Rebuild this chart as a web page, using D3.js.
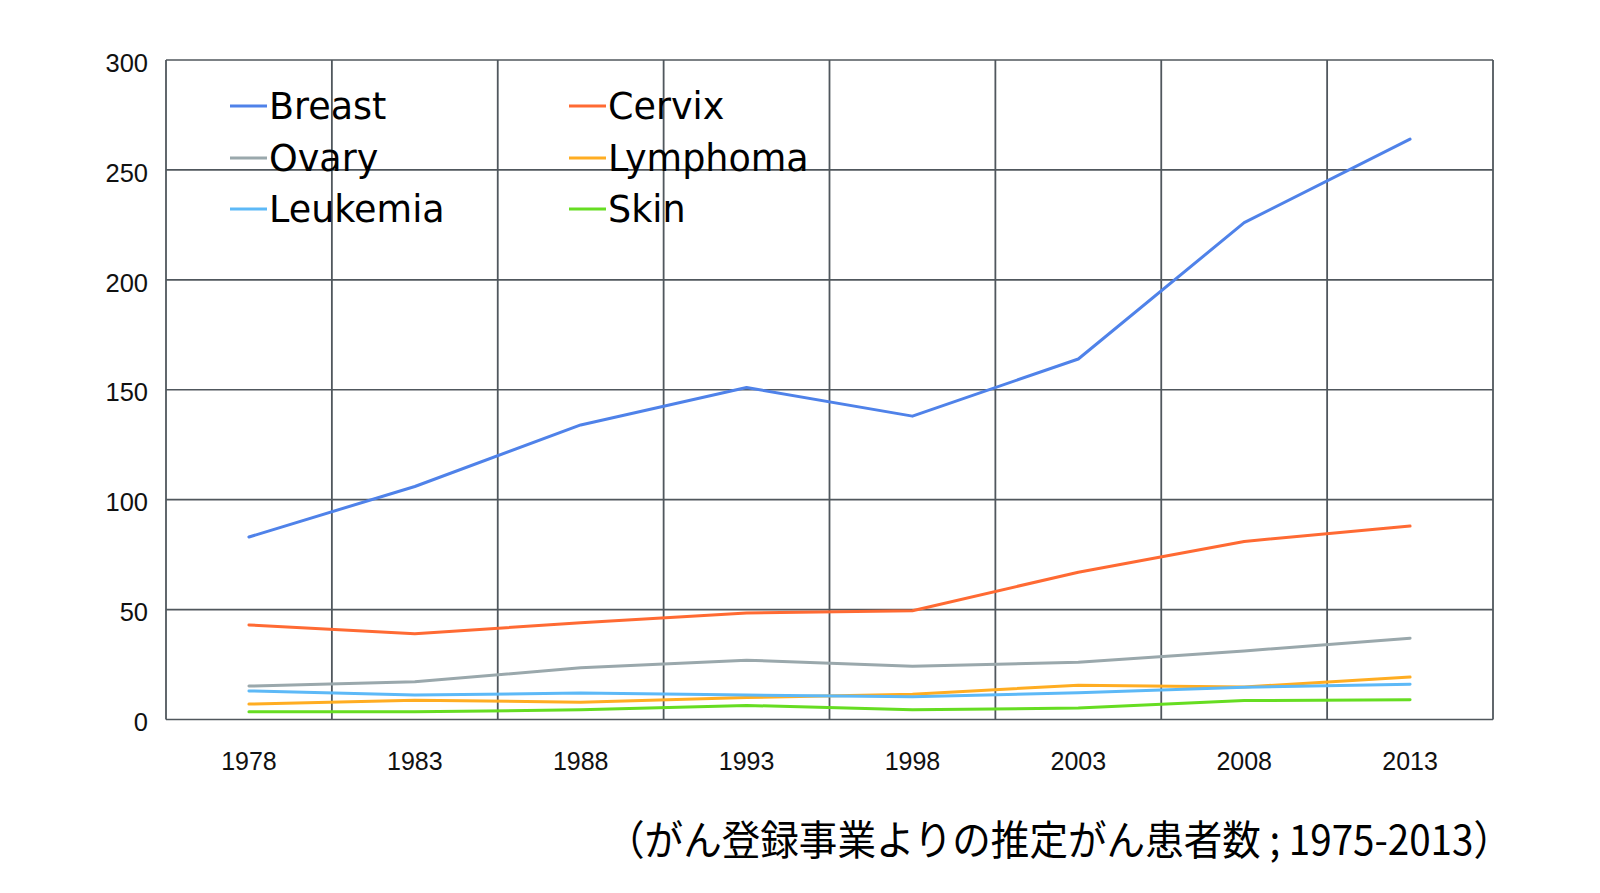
<!DOCTYPE html>
<html><head><meta charset="utf-8">
<script src="https://cdn.jsdelivr.net/npm/d3@7"></script>
<style>html,body{margin:0;padding:0;background:#fff;}svg{display:block;}</style>
</head><body>
<svg id="chart" width="1600" height="893"></svg>
<script>
const years = ["1978","1983","1988","1993","1998","2003","2008","2013"];
const breast   = [83, 106, 134, 151, 138, 164, 226, 264];
const cervix   = [43, 39, 44, 48.5, 49.5, 67, 81, 88];
const ovary    = [15.2, 17.2, 23.5, 27, 24.2, 26, 31.2, 37];
const lymphoma = [7, 8.8, 7.9, 10, 11.5, 15.6, 14.8, 19.3];
const leukemia = [13, 11.1, 12, 11.1, 10.3, 12.2, 14.7, 16];
const skin     = [3.5, 3.5, 4.4, 6.4, 4.4, 5.2, 8.6, 9];
const seriesNames = ["Breast","Cervix","Ovary","Lymphoma","Leukemia","Skin"];
const seriesValues = [breast, cervix, ovary, lymphoma, leukemia, skin];
const colors = ["#4f82e9","#ff6a33","#9aa8ac","#ffad22","#5db9f7","#66dd22"];
const yTicks = [0,50,100,150,200,250,300];
const caption = "（がん登録事業よりの推定がん患者数 ; 1975-2013）";

const svg = d3.select("#chart");
const L = 166, R = 1493, T = 60, B = 719.5;
const x = d3.scaleBand().domain(years).range([L, R]).paddingInner(0).paddingOuter(0);
const y = d3.scaleLinear().domain([0, 300]).range([B, T]);
const gridColor = "#50575d";

// horizontal gridlines
svg.append("g").selectAll("line").data(yTicks).join("line")
  .attr("x1", L).attr("x2", R).attr("y1", d => y(d)).attr("y2", d => y(d))
  .attr("stroke", gridColor).attr("stroke-width", 1.6);
// vertical gridlines at band edges
const edges = years.map(d => x(d)).concat([R]);
svg.append("g").selectAll("line").data(edges).join("line")
  .attr("x1", d => d).attr("x2", d => d).attr("y1", T).attr("y2", B)
  .attr("stroke", gridColor).attr("stroke-width", 1.8);

// y axis labels
const yAxis = d3.axisLeft(y).tickValues(yTicks).tickSize(0).tickPadding(18);
const ya = svg.append("g").attr("transform", `translate(${L},0)`).call(yAxis);
ya.select(".domain").remove();
ya.selectAll("text").attr("font-family", "Liberation Sans, Arial, sans-serif")
  .attr("font-size", 25.5).attr("fill", "#111").attr("dy", "0.44em");

// x axis labels
const xAxis = d3.axisBottom(x).tickSize(0).tickPadding(33);
const xa = svg.append("g").attr("transform", `translate(0,${B})`).call(xAxis);
xa.select(".domain").remove();
xa.selectAll("text").attr("font-family", "Liberation Sans, Arial, sans-serif")
  .attr("font-size", 25).attr("fill", "#111");

// lines
const line = d3.line().x((d, i) => x(years[i]) + x.bandwidth() / 2).y(d => y(d));
svg.append("g").selectAll("path").data(seriesValues).join("path")
  .attr("d", d => line(d)).attr("fill", "none")
  .attr("stroke", (d, i) => colors[i]).attr("stroke-width", 3)
  .attr("stroke-linejoin", "round").attr("stroke-linecap", "round");

// legend
const legX = [230, 569], legY = [106, 158, 209];
const leg = svg.append("g").selectAll("g").data(seriesNames).join("g")
  .attr("transform", (d, i) => `translate(${legX[i % 2]},${legY[Math.floor(i / 2)]})`);
leg.append("line").attr("x1", 0).attr("x2", 37).attr("y1", 0).attr("y2", 0)
  .attr("stroke", (d, i) => colors[i]).attr("stroke-width", 3);
leg.append("text").attr("x", 39).attr("y", 0).attr("dy", "0.36em")
  .attr("font-family", "DejaVu Sans, sans-serif").attr("font-size", 36.5)
  .attr("fill", "#000").text(d => d);

// caption
svg.append("text").attr("x", 606).attr("y", 855)
  .attr("font-family", "Noto Sans CJK JP, sans-serif").attr("font-size", 41)
  .attr("fill", "#000").attr("textLength", 906).attr("lengthAdjust", "spacingAndGlyphs")
  .text(caption);
</script>
</body></html>
